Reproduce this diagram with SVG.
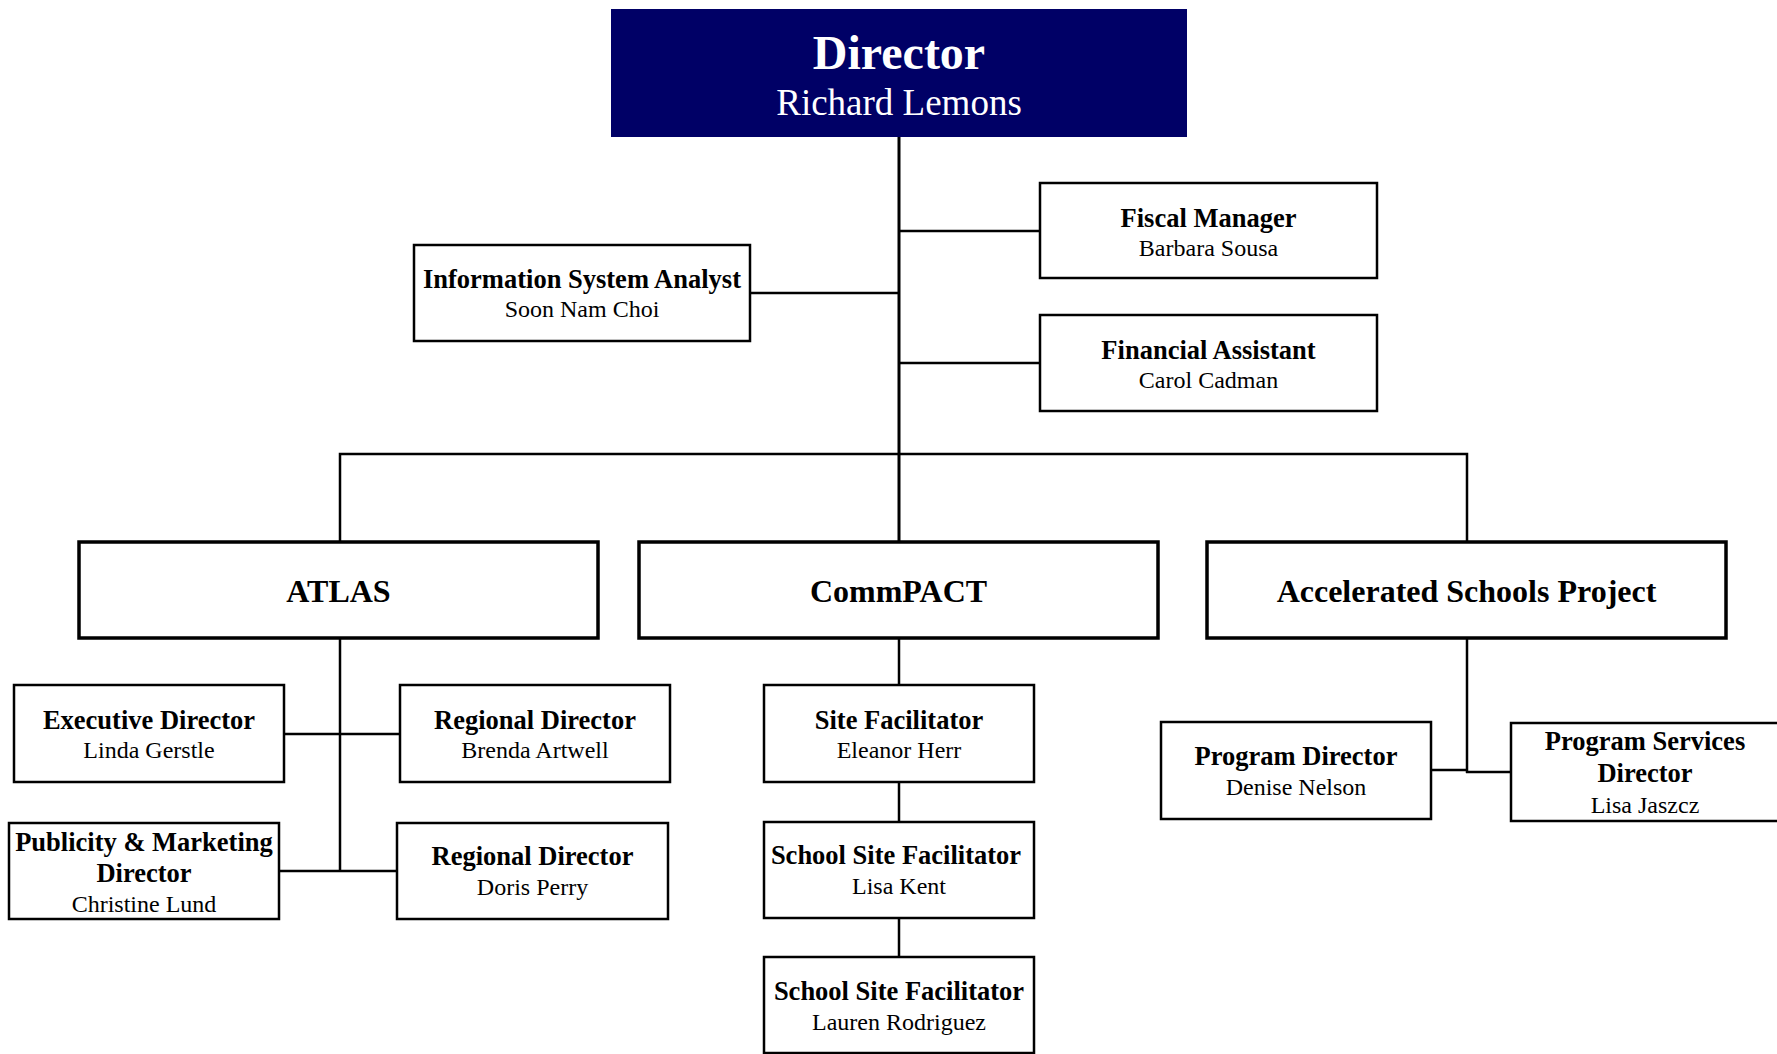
<svg xmlns="http://www.w3.org/2000/svg" width="1777" height="1054" viewBox="0 0 1777 1054">
<style>
.box{fill:#fff;stroke:#000;stroke-width:2.5}
.lvl{fill:#fff;stroke:#000;stroke-width:3.5}
.t{font-family:"Liberation Serif","Times New Roman",serif;font-weight:bold;font-size:26.5px;text-anchor:middle;fill:#000}
.n{font-family:"Liberation Serif","Times New Roman",serif;font-size:24px;text-anchor:middle;fill:#000}
.lt{font-family:"Liberation Serif","Times New Roman",serif;font-weight:bold;font-size:32px;text-anchor:middle;fill:#000}
.c{stroke:#000;stroke-width:2.5;fill:none}
</style>
<rect width="1777" height="1054" fill="#fff"/>
<g id="connectors">
<line class="c" x1="899" y1="137" x2="899" y2="542" style="stroke-width:3"/>
<line class="c" x1="899" y1="231" x2="1040" y2="231"/>
<line class="c" x1="899" y1="363" x2="1040" y2="363"/>
<line class="c" x1="750" y1="293" x2="899" y2="293"/>
<polyline class="c" points="340,542 340,454 1467,454 1467,542"/>
<line class="c" x1="340" y1="638" x2="340" y2="871"/>
<line class="c" x1="284" y1="734" x2="400" y2="734"/>
<line class="c" x1="279" y1="871" x2="397" y2="871"/>
<line class="c" x1="899" y1="638" x2="899" y2="685"/>
<line class="c" x1="899" y1="782" x2="899" y2="822"/>
<line class="c" x1="899" y1="918" x2="899" y2="957"/>
<line class="c" x1="1467" y1="638" x2="1467" y2="773"/>
<line class="c" x1="1431" y1="770" x2="1467" y2="770"/>
<line class="c" x1="1466" y1="772" x2="1511" y2="772"/>
</g>
<g id="director">
<rect x="611" y="9" width="576" height="128" fill="#000066"/>
<text x="899" y="69" style="font-family:'Liberation Serif',serif;font-weight:bold;font-size:48px;text-anchor:middle;fill:#fff">Director</text>
<text x="899" y="115" style="font-family:'Liberation Serif',serif;font-size:37px;text-anchor:middle;fill:#fff">Richard Lemons</text>
</g>
<g id="fiscal-manager">
<rect class="box" x="1040" y="183" width="337" height="95"/>
<text class="t" x="1208.5" y="227">Fiscal Manager</text>
<text class="n" x="1208.5" y="256">Barbara Sousa</text>
</g>
<g id="financial-assistant">
<rect class="box" x="1040" y="315" width="337" height="96"/>
<text class="t" x="1208.5" y="359">Financial Assistant</text>
<text class="n" x="1208.5" y="388">Carol Cadman</text>
</g>
<g id="info-system-analyst">
<rect class="box" x="414" y="245" width="336" height="96"/>
<text class="t" x="582" y="288">Information System Analyst</text>
<text class="n" x="582" y="317">Soon Nam Choi</text>
</g>
<g id="atlas">
<rect class="lvl" x="79" y="542" width="519" height="96"/>
<text class="lt" x="338.5" y="602">ATLAS</text>
</g>
<g id="commpact">
<rect class="lvl" x="639" y="542" width="519" height="96"/>
<text class="lt" x="898.5" y="602">CommPACT</text>
</g>
<g id="asp">
<rect class="lvl" x="1207" y="542" width="519" height="96"/>
<text class="lt" x="1466.5" y="602">Accelerated Schools Project</text>
</g>
<g id="executive-director">
<rect class="box" x="14" y="685" width="270" height="97"/>
<text class="t" x="149" y="729">Executive Director</text>
<text class="n" x="149" y="758">Linda Gerstle</text>
</g>
<g id="regional-director-brenda">
<rect class="box" x="400" y="685" width="270" height="97"/>
<text class="t" x="535" y="729">Regional Director</text>
<text class="n" x="535" y="758">Brenda Artwell</text>
</g>
<g id="publicity-director">
<rect class="box" x="9" y="823" width="270" height="96"/>
<text class="t" x="144" y="851">Publicity &amp; Marketing</text>
<text class="t" x="144" y="882">Director</text>
<text class="n" x="144" y="912">Christine Lund</text>
</g>
<g id="regional-director-doris">
<rect class="box" x="397" y="823" width="271" height="96"/>
<text class="t" x="532.5" y="865">Regional Director</text>
<text class="n" x="532.5" y="895">Doris Perry</text>
</g>
<g id="site-facilitator">
<rect class="box" x="764" y="685" width="270" height="97"/>
<text class="t" x="899" y="729">Site Facilitator</text>
<text class="n" x="899" y="758">Eleanor Herr</text>
</g>
<g id="school-site-facilitator-lisa">
<rect class="box" x="764" y="822" width="270" height="96"/>
<text class="t" x="896" y="864">School Site Facilitator</text>
<text class="n" x="899" y="894">Lisa Kent</text>
</g>
<g id="school-site-facilitator-lauren">
<rect class="box" x="764" y="957" width="270" height="96"/>
<text class="t" x="899" y="1000">School Site Facilitator</text>
<text class="n" x="899" y="1030">Lauren Rodriguez</text>
</g>
<g id="program-director">
<rect class="box" x="1161" y="722" width="270" height="97"/>
<text class="t" x="1296" y="765">Program Director</text>
<text class="n" x="1296" y="795">Denise Nelson</text>
</g>
<g id="program-services-director">
<rect class="box" x="1511" y="723" width="268" height="98"/>
<text class="t" x="1645" y="750">Program Services</text>
<text class="t" x="1645" y="782">Director</text>
<text class="n" x="1645" y="813">Lisa Jaszcz</text>
</g>
</svg>
